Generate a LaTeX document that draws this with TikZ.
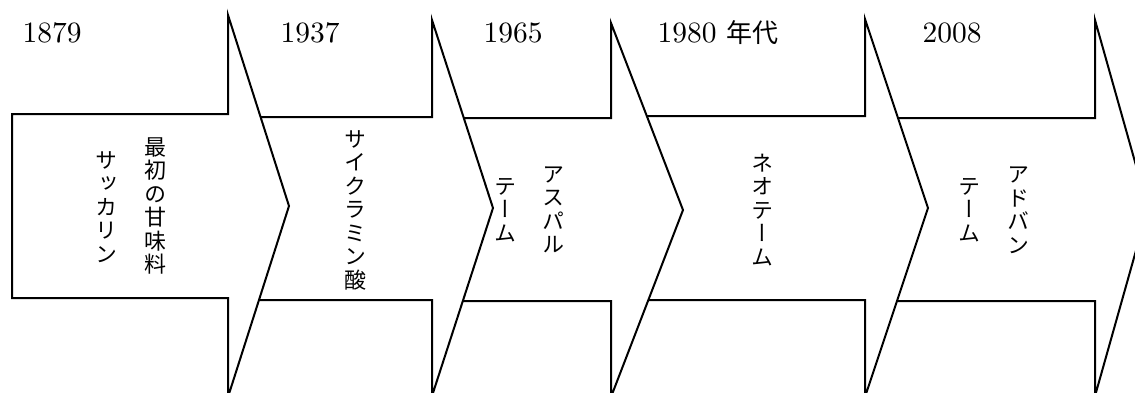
\documentclass[tikz,border=0pt]{standalone}
\usepackage{fontspec}
\newfontfamily\jpv[RawFeature={+vert}]{Noto Sans CJK JP}
\newfontfamily\jph{Noto Sans CJK JP}
\newfontfamily\yr{lmroman10-regular.otf}
\begin{document}
\begin{tikzpicture}[x=1pt,y=-1pt,
  arrowshape/.style={draw=black, fill=white, line width=2pt, line join=miter},
  year/.style={font=\yr\fontsize{29.5}{32}\selectfont, inner sep=0pt, anchor=base},
  vcol/.style={font=\jpv\fontsize{22}{23.5}\selectfont, align=center, inner sep=0pt}]
\useasboundingbox (0,0) rectangle (1135,392);
\clip (0,0) rectangle (1135,392);
% arrows, drawn right to left so each head overlaps the next body
\draw[arrowshape] (880,118) -- (1095,118) -- (1095,20) -- (1148,208) -- (1095,396) -- (1095,301) -- (880,301) -- cycle;
\draw[arrowshape] (620,116) -- (865,116) -- (865,19) -- (928,208) -- (865,397) -- (865,300) -- (620,300) -- cycle;
\draw[arrowshape] (440,118) -- (611,118) -- (611,23) -- (683,210) -- (611,397) -- (611,301) -- (440,301) -- cycle;
\draw[arrowshape] (240,117) -- (432,117) -- (432,20) -- (493,208) -- (432,396) -- (432,300) -- (240,300) -- cycle;
\draw[arrowshape] (12,114) -- (228,114) -- (228,15) -- (289,206) -- (228,397) -- (228,298) -- (12,298) -- cycle;
% years
\node[year] (y1) at (52,42) {1879};
\node[year] (y2) at (310,42) {1937};
\node[year] (y3) at (513,42) {1965};
\node[year] (y4) at (718,42) {1980 {\jph\fontsize{26}{30}\selectfont 年代}};
\node[year] (y5) at (952,42) {2008};
% vertical labels
\node[vcol] (t1a) at (155,206) {最\\初\\の\\甘\\味\\料};
\node[vcol] (t1b) at (106,207) {サ\\ッ\\カ\\リ\\ン};
\node[vcol] (t2) at (355,210) {サ\\イ\\ク\\ラ\\ミ\\ン\\酸};
\node[vcol] (t3a) at (553,210) {ア\\ス\\パ\\ル};
\node[vcol] (t3b) at (505,210) {テ\\ー\\ム};
\node[vcol] (t4) at (762,210) {ネ\\オ\\テ\\ー\\ム};
\node[vcol] (t5a) at (1018,210) {ア\\ド\\バ\\ン};
\node[vcol] (t5b) at (969,210) {テ\\ー\\ム};
\end{tikzpicture}
\end{document}
